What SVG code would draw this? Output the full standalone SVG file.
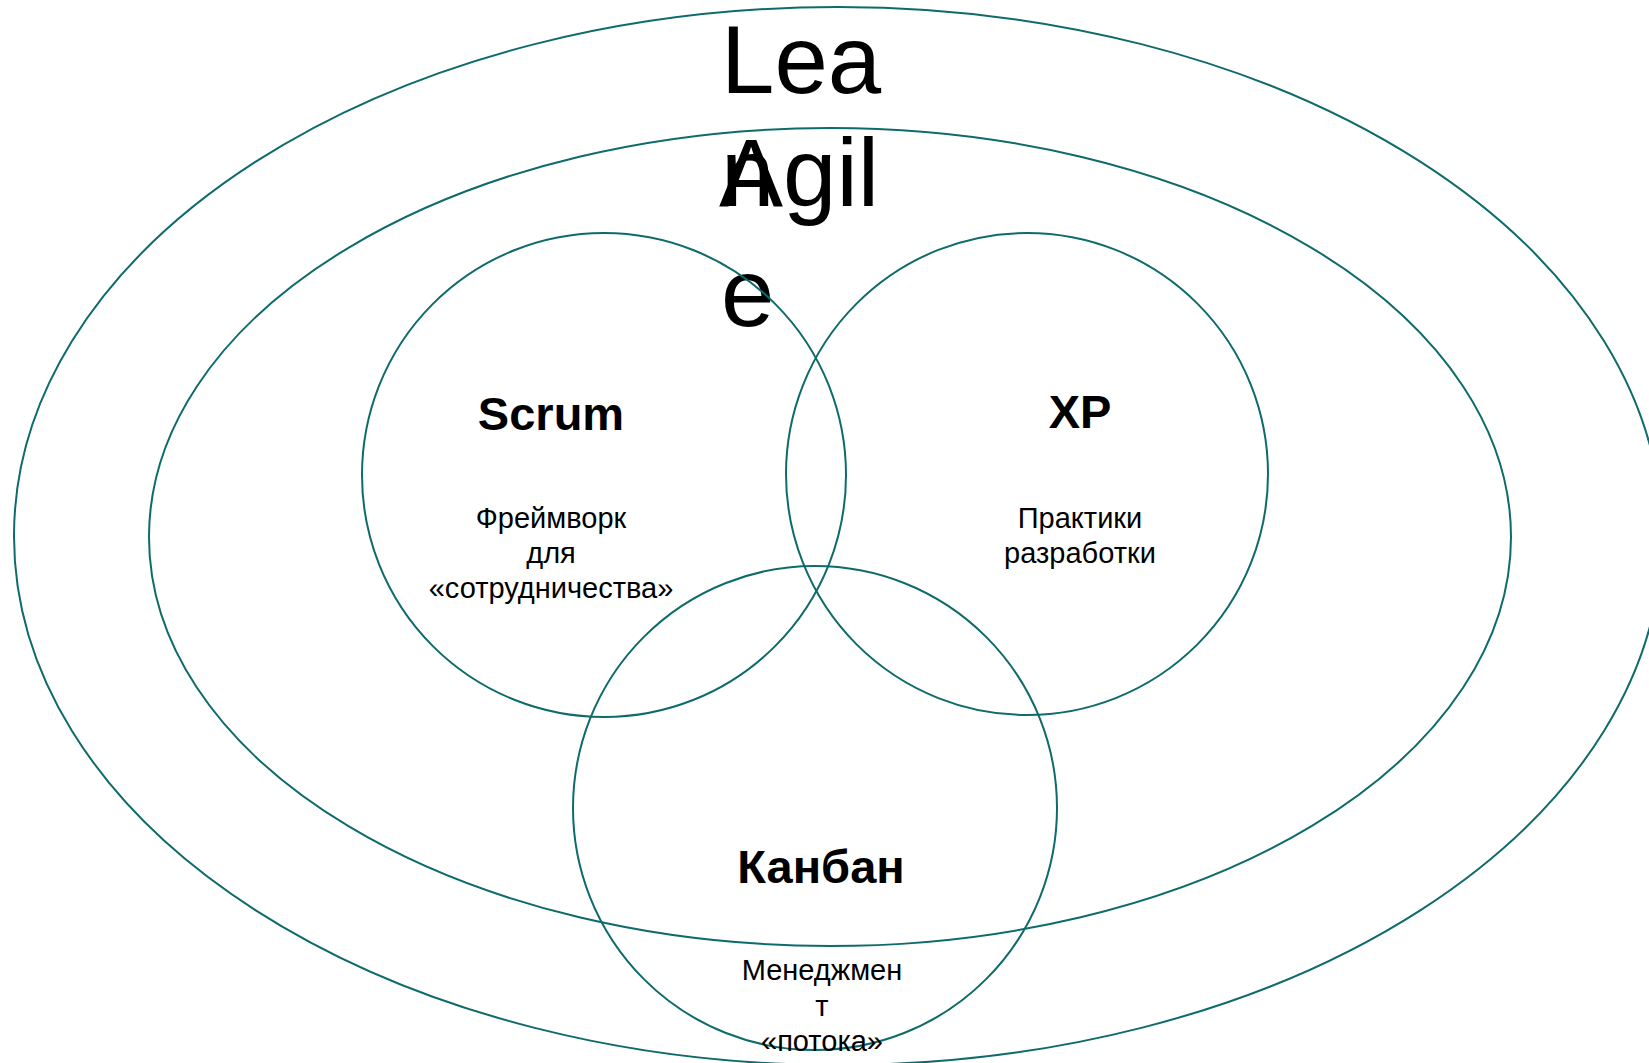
<svg xmlns="http://www.w3.org/2000/svg" width="1649" height="1063" viewBox="0 0 1649 1063">
<style>
.sh{fill:none;stroke:#0f6b6b;stroke-width:2}
.big{font-family:"Liberation Sans",Arial,sans-serif;font-size:96px;fill:#000}
.ttl{font-family:"Liberation Sans",Arial,sans-serif;font-size:47px;font-weight:bold;fill:#000;text-anchor:middle}
.body{font-family:"Liberation Sans",Arial,sans-serif;font-size:29px;fill:#000;text-anchor:middle}
</style>
<rect width="1649" height="1063" fill="#fff"/>
<g id="lean">
<ellipse class="sh" cx="838" cy="536" rx="824" ry="529"/>
<text class="big" x="721" y="93">Lea</text>
<text class="big" x="721" y="206">n</text>
</g>
<g id="agile">
<ellipse class="sh" cx="830" cy="537" rx="681" ry="409"/>
<text class="big" x="719" y="206">Agil</text>
<text class="big" x="721" y="326">e</text>
</g>
<g id="scrum">
<circle class="sh" cx="604" cy="475" r="242"/>
<text class="ttl" x="551" y="430">Scrum</text>
<text class="body" x="551" y="528">Фреймворк</text>
<text class="body" x="551" y="563">для</text>
<text class="body" x="551" y="598">«сотрудничества»</text>
</g>
<g id="xp">
<circle class="sh" cx="1027" cy="474" r="241"/>
<text class="ttl" x="1080" y="428">XP</text>
<text class="body" x="1080" y="528">Практики</text>
<text class="body" x="1080" y="563">разработки</text>
</g>
<g id="kanban">
<circle class="sh" cx="815" cy="808" r="242"/>
<text class="ttl" x="821" y="883">Канбан</text>
<text class="body" x="822" y="980">Менеджмен</text>
<text class="body" x="822" y="1016">т</text>
<text class="body" x="822" y="1051">«потока»</text>
</g>
<g id="connectors"/>
</svg>
